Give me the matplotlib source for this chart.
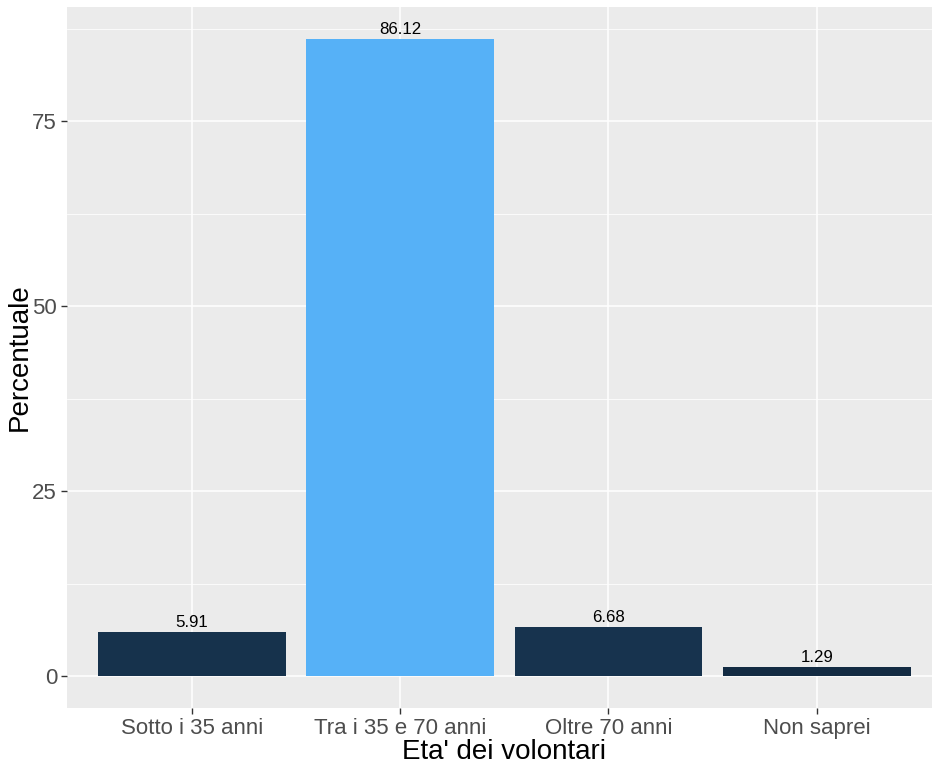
import matplotlib
matplotlib.use('Agg')
import matplotlib.pyplot as plt
import matplotlib.colors
import numpy as np

categories = ['Sotto i 35 anni', 'Tra i 35 e 70 anni', 'Oltre 70 anni', 'Non saprei']
percent = [5.91, 86.12, 6.68, 1.29]
y_ticks = [0, 25, 50, 75]

plt.rcParams['font.family'] = ['Liberation Sans', 'DejaVu Sans']

fig = plt.figure(figsize=(9.32, 7.63), dpi=100)
# panel runs past the right edge of the picture, as in the original export
ax = fig.add_axes([0.0716, 0.072, 0.939, 0.9188])

# ggplot-style continuous fill from low to high value
cmap = matplotlib.colors.LinearSegmentedColormap.from_list('gg', ['#132B43', '#56B1F7'])
norm = matplotlib.colors.Normalize(min(percent), max(percent))
x = np.arange(1, len(categories) + 1)

ax.set_facecolor('#EBEBEB')
ax.bar(x, percent, width=0.9, color=cmap(norm(percent)), zorder=3)
for xi, v in zip(x, percent):
    ax.annotate(f'{v:.2f}', (xi, v), xytext=(0, 1.5), textcoords='offset points',
                ha='center', va='bottom', fontsize=12.2, color='black', zorder=4)

span = max(percent)
ax.set_xlim(0.4, len(categories) + 0.6)
ax.set_ylim(-0.05 * span, span * 1.05)

ax.set_yticks(y_ticks)
ax.set_yticks([12.5, 37.5, 62.5, 87.5], minor=True)
ax.set_xticks(x)
ax.set_xticklabels(categories)
ax.grid(which='major', color='white', lw=1.1, zorder=0)
ax.grid(which='minor', axis='y', color='white', lw=0.55, zorder=0)
ax.tick_params(which='major', length=4, width=1, color='#333333',
               labelcolor='#4D4D4D', labelsize=16, pad=3)
ax.tick_params(which='minor', length=0)
for s in ax.spines.values():
    s.set_visible(False)

ax.set_xlabel("Eta' dei volontari", fontsize=20, labelpad=0)
ax.set_ylabel('Percentuale', fontsize=20, labelpad=0)

fig.savefig('out.png', dpi=100)
